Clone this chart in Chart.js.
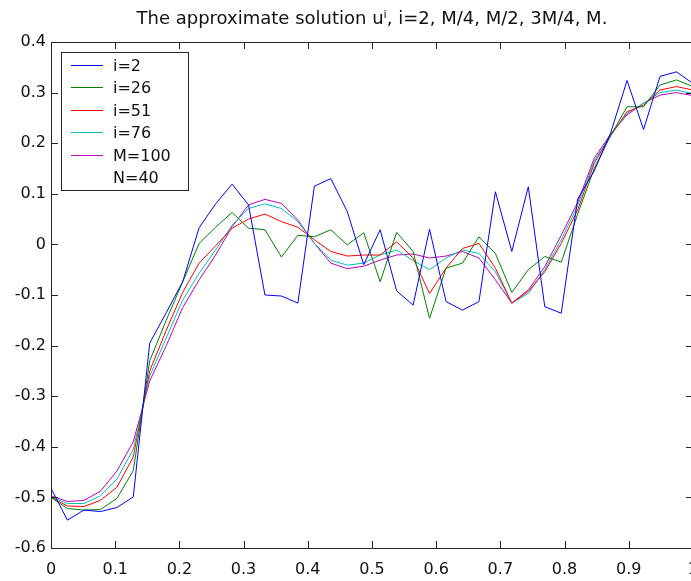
<!DOCTYPE html>
<html>
<head>
<meta charset="utf-8">
<script src="https://cdn.jsdelivr.net/npm/chart.js@4.4.0/dist/chart.umd.min.js"></script>
<style>
  html, body { margin: 0; padding: 0; background: #fff; overflow: hidden; }
  #wrap { position: relative; width: 710px; height: 581px; }
</style>
</head>
<body>
<div id="wrap"><canvas id="solChart" width="710" height="581" style="width:710px;height:581px"></canvas></div>
<script>
// grid points x_k (N = 40 points on [0,1])
const xGrid = [0, 0.0256, 0.0513, 0.0769, 0.1026, 0.1282, 0.1538, 0.1795, 0.2051, 0.2308,
  0.2564, 0.2821, 0.3077, 0.3333, 0.359, 0.3846, 0.4103, 0.4359, 0.4615, 0.4872,
  0.5128, 0.5385, 0.5641, 0.5897, 0.6154, 0.641, 0.6667, 0.6923, 0.7179, 0.7436,
  0.7692, 0.7949, 0.8205, 0.8462, 0.8718, 0.8974, 0.9231, 0.9487, 0.9744, 1];

const xTicks = [0, 0.1, 0.2, 0.3, 0.4, 0.5, 0.6, 0.7, 0.8, 0.9, 1];
const yTicks = [-0.6, -0.5, -0.4, -0.3, -0.2, -0.1, 0, 0.1, 0.2, 0.3, 0.4];

const labels = ['i=2', 'i=26', 'i=51', 'i=76', 'M=100', 'N=40'];

const u2 = [-0.482, -0.545, -0.525, -0.528, -0.52, -0.499, -0.195, -0.135, -0.074, 0.033,
  0.08, 0.119, 0.078, -0.1, -0.102, -0.116, 0.115, 0.13, 0.065, -0.04,
  0.029, -0.092, -0.12, 0.03, -0.113, -0.13, -0.113, 0.104, -0.014, 0.114,
  -0.123, -0.136, 0.09, 0.145, 0.22, 0.324, 0.227, 0.332, 0.341, 0.318];

const u26 = [-0.5, -0.522, -0.525, -0.524, -0.502, -0.447, -0.23, -0.15, -0.074, 0.002,
  0.034, 0.063, 0.032, 0.029, -0.025, 0.018, 0.015, 0.029, -0.001, 0.023,
  -0.074, 0.024, -0.014, -0.146, -0.047, -0.037, 0.015, -0.018, -0.095, -0.05,
  -0.024, -0.035, 0.06, 0.15, 0.215, 0.272, 0.272, 0.315, 0.325, 0.312];

const u51 = [-0.5, -0.517, -0.518, -0.506, -0.48, -0.42, -0.25, -0.17, -0.095, -0.037,
  -0.003, 0.032, 0.05, 0.06, 0.045, 0.034, 0.009, -0.014, -0.023, -0.021,
  -0.021, 0.005, -0.027, -0.097, -0.047, -0.008, 0.002, -0.047, -0.116, -0.093,
  -0.054, 0.002, 0.068, 0.16, 0.215, 0.262, 0.275, 0.305, 0.312, 0.305];

const u76 = [-0.499, -0.512, -0.512, -0.497, -0.464, -0.405, -0.26, -0.185, -0.11, -0.057,
  -0.011, 0.038, 0.071, 0.08, 0.071, 0.045, 0.002, -0.031, -0.041, -0.037,
  -0.021, -0.011, -0.032, -0.05, -0.027, -0.011, -0.018, -0.054, -0.116, -0.097,
  -0.05, 0.009, 0.077, 0.165, 0.215, 0.259, 0.279, 0.3, 0.305, 0.298];

const u100 = [-0.497, -0.508, -0.506, -0.488, -0.448, -0.39, -0.27, -0.2, -0.125, -0.07,
  -0.021, 0.035, 0.078, 0.089, 0.081, 0.048, 0.002, -0.037, -0.048, -0.043,
  -0.031, -0.021, -0.019, -0.027, -0.023, -0.014, -0.027, -0.07, -0.116, -0.09,
  -0.044, 0.018, 0.083, 0.17, 0.218, 0.256, 0.279, 0.295, 0.3, 0.294];

const seriesList = [u2, u26, u51, u76, u100];
const colors = ['#0000ff', '#008000', '#ff0000', '#00bfbf', '#bf00bf'];

const FONT = "'DejaVu Sans', 'Liberation Sans', sans-serif";
const AXIS = '#262626';

function toPoints(vals) {
  return vals.map((v, k) => ({ x: xGrid[k], y: v }));
}

const datasets = seriesList.map((vals, i) => ({
  label: labels[i],
  data: toPoints(vals),
  borderColor: colors[i],
  borderWidth: 1,
  pointRadius: 0,
  tension: 0,
  fill: false
}));
// legend-only entry, no line
datasets.push({ label: labels[5], data: [], borderColor: 'transparent', borderWidth: 0, pointRadius: 0 });

// axes box with inward ticks, matlab style
const boxTicks = {
  id: 'boxTicks',
  afterDatasetsDraw(chart) {
    const { ctx, chartArea: a, scales: { x, y } } = chart;
    ctx.save();
    ctx.strokeStyle = AXIS;
    ctx.lineWidth = 1;
    ctx.beginPath();
    ctx.rect(Math.round(a.left) + 0.5, Math.round(a.top) + 0.5,
      Math.round(a.right - a.left), Math.round(a.bottom - a.top));
    x.ticks.forEach(t => {
      const px = Math.round(x.getPixelForValue(t.value)) + 0.5;
      ctx.moveTo(px, a.bottom); ctx.lineTo(px, a.bottom - 7);
      ctx.moveTo(px, a.top); ctx.lineTo(px, a.top + 7);
    });
    y.ticks.forEach(t => {
      const py = Math.round(y.getPixelForValue(t.value)) + 0.5;
      ctx.moveTo(a.left, py); ctx.lineTo(a.left + 7, py);
      ctx.moveTo(a.right, py); ctx.lineTo(a.right - 7, py);
    });
    ctx.stroke();
    ctx.restore();
  }
};

// boxed legend in the upper left corner
const boxLegend = {
  id: 'boxLegend',
  afterDraw(chart) {
    const { ctx } = chart;
    const ds = chart.data.datasets;
    const left = 61, top = 52, w = 127, h = 138, rowH = 22.4;
    ctx.save();
    ctx.fillStyle = '#fff';
    ctx.fillRect(left, top, w, h);
    ctx.strokeStyle = AXIS;
    ctx.lineWidth = 1;
    ctx.strokeRect(left + 0.5, top + 0.5, w, h);
    ctx.font = '16px ' + FONT;
    ctx.textBaseline = 'middle';
    ds.forEach((d, i) => {
      const cy = Math.round(top + 13 + i * rowH) + 0.5;
      if (d.borderWidth > 0) {
        ctx.strokeStyle = d.borderColor;
        ctx.beginPath();
        ctx.moveTo(71, cy); ctx.lineTo(103, cy);
        ctx.stroke();
      }
      ctx.fillStyle = '#111';
      ctx.fillText(d.label, 113, cy + 1);
    });
    ctx.restore();
  }
};

new Chart(document.getElementById('solChart'), {
  type: 'line',
  data: { datasets },
  options: {
    responsive: false,
    animation: false,
    layout: { padding: { top: 0, right: 14, left: 0, bottom: 0 } },
    plugins: {
      legend: { display: false },
      tooltip: { enabled: false },
      title: {
        display: true,
        fullSize: false,
        text: 'The approximate solution u\u2071, i=2, M/4, M/2, 3M/4, M.',
        color: '#111',
        font: { family: FONT, size: 18, weight: 'normal', lineHeight: 1.2 },
        padding: { top: 9, bottom: 11.4 }
      }
    },
    scales: {
      x: {
        type: 'linear',
        min: 0, max: 1,
        afterBuildTicks: s => { s.ticks = xTicks.map(v => ({ value: v })); },
        afterFit: s => { s.height = 33; },
        grid: { display: false, drawTicks: false },
        border: { display: false },
        ticks: {
          color: '#111', padding: 12, maxRotation: 0, autoSkip: false,
          font: { family: FONT, size: 16 },
          callback: v => String(v)
        }
      },
      y: {
        type: 'linear',
        min: -0.6, max: 0.4,
        afterBuildTicks: s => { s.ticks = yTicks.map(v => ({ value: v })); },
        afterFit: s => { s.width = 51; },
        grid: { display: false, drawTicks: false },
        border: { display: false },
        ticks: {
          color: '#111', padding: 5, autoSkip: false,
          font: { family: FONT, size: 16 },
          callback: v => String(v)
        }
      }
    }
  },
  plugins: [boxTicks, boxLegend]
});
</script>
</body>
</html>
